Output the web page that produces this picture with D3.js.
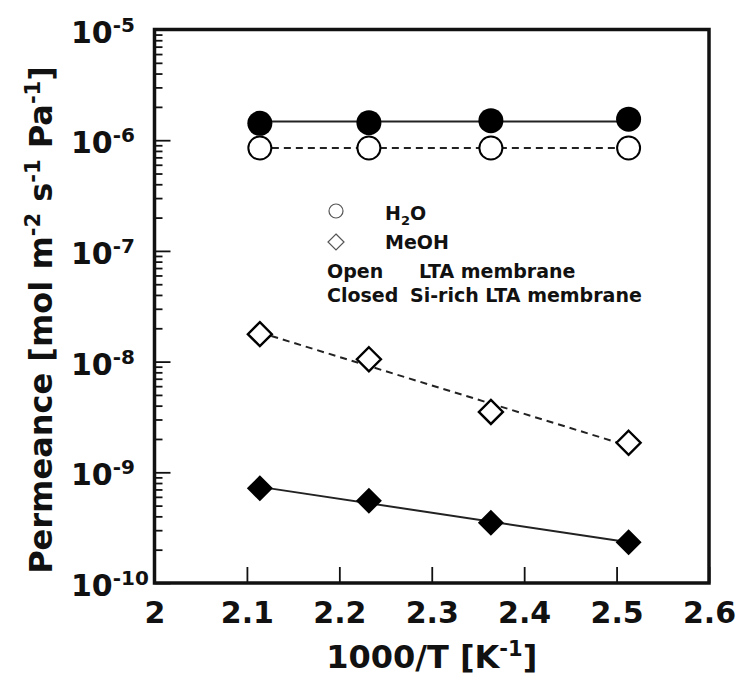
<!DOCTYPE html>
<html>
<head>
<meta charset="utf-8">
<script src="https://cdn.jsdelivr.net/npm/d3@7"></script>
<style>
  html, body { margin: 0; padding: 0; background: #fff; }
  svg text { font-family: "DejaVu Sans", Verdana, sans-serif; font-weight: bold; fill: #111; }
</style>
</head>
<body>
<svg id="chart"></svg>
<script>
// 1000/T [K^-1] for the four temperatures
var invT = [2.114, 2.232, 2.364, 2.513];
// permeance [mol m-2 s-1 Pa-1]
var h2oOpen = [8.5e-7, 8.5e-7, 8.5e-7, 8.5e-7];        // LTA membrane
var h2oClosed = [1.42e-6, 1.44e-6, 1.50e-6, 1.55e-6];  // Si-rich LTA membrane
var meohOpen = [1.77e-8, 1.05e-8, 3.51e-9, 1.85e-9];
var meohClosed = [7.17e-10, 5.54e-10, 3.51e-10, 2.33e-10];

var xTicks = [2, 2.1, 2.2, 2.3, 2.4, 2.5, 2.6];
var yExps = [-10, -9, -8, -7, -6, -5];

var W = 737, H = 677;
var plot = { left: 154.5, right: 709, top: 29.5, bottom: 583 };

var svg = d3.select("#chart").attr("width", W).attr("height", H);

var x = d3.scaleLinear().domain([2, 2.6]).range([plot.left, plot.right]);
var y = d3.scaleLog().domain([1e-10, 1e-5]).range([plot.bottom, plot.top]);

// series: fit "mean" draws flat line, "lin" draws log-linear regression
var series = [
	{ vals: h2oClosed, shape: "circle", filled: true, dash: null, fit: "mean" },
	{ vals: h2oOpen, shape: "circle", filled: false, dash: "7,5", fit: "mean" },
	{ vals: meohOpen, shape: "diamond", filled: false, dash: "7,5", fit: "lin" },
	{ vals: meohClosed, shape: "diamond", filled: true, dash: null, fit: "lin" }
];

function fitLine(vals, kind) {
	var ly = vals.map(function(v) { return Math.log10(v); });
	var mx = d3.mean(invT), my = d3.mean(ly);
	var slope = 0;
	if (kind === "lin") {
		var sxy = 0, sxx = 0;
		for (var i = 0; i < invT.length; ++i) {
			sxy += (invT[i] - mx) * (ly[i] - my);
			sxx += (invT[i] - mx) * (invT[i] - mx);
		}
		slope = sxy / sxx;
	}
	var x0 = invT[0], x1 = invT[invT.length - 1];
	return [
		[x0, Math.pow(10, my + slope * (x0 - mx))],
		[x1, Math.pow(10, my + slope * (x1 - mx))]
	];
}

// axes (ticks inside)
var xAxis = d3.axisBottom(x).tickValues(xTicks).tickSizeInner(-16).tickSizeOuter(0)
	.tickFormat(function(d) { return d === 2 ? "2" : d3.format(".1f")(d); });
var gx = svg.append("g").attr("transform", "translate(0," + plot.bottom + ")").call(xAxis);
gx.select(".domain").remove();
gx.selectAll("line").attr("stroke", "#111").attr("stroke-width", 1.8);
gx.selectAll("text").attr("dy", null).attr("y", 40)
	.style("font-size", "30px").attr("fill", "#111");

var majors = yExps.map(function(e) { return Math.pow(10, e); });
var minors = [];
yExps.slice(0, -1).forEach(function(e) {
	for (var m = 2; m <= 9; ++m) minors.push(m * Math.pow(10, e));
});

var gyMinor = svg.append("g").attr("transform", "translate(" + plot.left + ",0)")
	.call(d3.axisLeft(y).tickValues(minors).tickSizeInner(-8).tickSizeOuter(0).tickFormat(""));
gyMinor.select(".domain").remove();
gyMinor.selectAll("line").attr("stroke", "#111").attr("stroke-width", 1.8);

var gy = svg.append("g").attr("transform", "translate(" + plot.left + ",0)")
	.call(d3.axisLeft(y).tickValues(majors).tickSizeInner(-16).tickSizeOuter(0).tickFormat(""));
gy.select(".domain").remove();
gy.selectAll("line").attr("stroke", "#111").attr("stroke-width", 1.8);
gy.selectAll(".tick").each(function(d) {
	var t = d3.select(this).append("text")
		.attr("x", 71 - plot.left).attr("y", 12.5)
		.attr("text-anchor", "start").style("font-size", "30px");
	t.append("tspan").text("10");
	t.append("tspan").attr("dy", -11).style("font-size", "20px")
		.text("-" + Math.abs(Math.round(Math.log10(d))));
});

// frame
svg.append("rect")
	.attr("x", plot.left).attr("y", plot.top)
	.attr("width", plot.right - plot.left).attr("height", plot.bottom - plot.top)
	.attr("fill", "none").attr("stroke", "#111").attr("stroke-width", 3.5);

// fit lines
var line = d3.line().x(function(d) { return x(d[0]); }).y(function(d) { return y(d[1]); });
svg.append("g").selectAll("path")
	.data(series).enter().append("path")
	.attr("d", function(s) { return line(fitLine(s.vals, s.fit)); })
	.attr("fill", "none").attr("stroke", "#222").attr("stroke-width", 2)
	.attr("stroke-dasharray", function(s) { return s.dash; });

// markers
var diamond = function(r) { return "M0," + (-r) + "L" + r + ",0L0," + r + "L" + (-r) + ",0Z"; };
series.forEach(function(s) {
	var g = svg.append("g");
	var pts = invT.map(function(t, i) { return [t, s.vals[i]]; });
	if (s.shape === "circle") {
		g.selectAll("circle").data(pts).enter().append("circle")
			.attr("cx", function(d) { return x(d[0]); })
			.attr("cy", function(d) { return y(d[1]); })
			.attr("r", s.filled ? 12.5 : 11.5)
			.attr("fill", s.filled ? "#000" : "#fff")
			.attr("stroke", "#000").attr("stroke-width", s.filled ? 0 : 2);
	} else {
		g.selectAll("path").data(pts).enter().append("path")
			.attr("transform", function(d) { return "translate(" + x(d[0]) + "," + y(d[1]) + ")"; })
			.attr("d", diamond(s.filled ? 13 : 12))
			.attr("fill", s.filled ? "#000" : "#fff")
			.attr("stroke", "#000").attr("stroke-width", s.filled ? 0 : 2.4);
	}
});

// legend
var lg = svg.append("g");
lg.append("circle").attr("cx", 336).attr("cy", 211).attr("r", 7)
	.attr("fill", "#fff").attr("stroke", "#555").attr("stroke-width", 1.2);
lg.append("path").attr("transform", "translate(336,242)").attr("d", diamond(8))
	.attr("fill", "#fff").attr("stroke", "#555").attr("stroke-width", 1.2);
var h2o = lg.append("text").attr("x", 385).attr("y", 219.5).style("font-size", "19px");
h2o.append("tspan").text("H");
h2o.append("tspan").attr("dy", 5).style("font-size", "13px").text("2");
h2o.append("tspan").attr("dy", -5).text("O");
lg.append("text").attr("x", 385).attr("y", 248.5).style("font-size", "19px").text("MeOH");
lg.append("text").attr("x", 327).attr("y", 277.5).style("font-size", "19px").text("Open");
lg.append("text").attr("x", 419).attr("y", 277.5).style("font-size", "19px").text("LTA membrane");
lg.append("text").attr("x", 327).attr("y", 302).style("font-size", "19px").text("Closed");
lg.append("text").attr("x", 410).attr("y", 302).style("font-size", "19px").text("Si-rich LTA membrane");

// axis titles
var xt = svg.append("text").attr("x", (plot.left + plot.right) / 2).attr("y", 668)
	.attr("text-anchor", "middle").style("font-size", "32px");
xt.append("tspan").text("1000/T [K");
xt.append("tspan").attr("dy", -12).style("font-size", "21px").text("-1");
xt.append("tspan").attr("dy", 12).text("]");

var yt = svg.append("text")
	.attr("transform", "translate(52," + 320 + ") rotate(-90)")
	.attr("text-anchor", "middle").style("font-size", "32px");
yt.append("tspan").text("Permeance [mol m");
yt.append("tspan").attr("dy", -12).style("font-size", "21px").text("-2");
yt.append("tspan").attr("dy", 12).text(" s");
yt.append("tspan").attr("dy", -12).style("font-size", "21px").text("-1");
yt.append("tspan").attr("dy", 12).text(" Pa");
yt.append("tspan").attr("dy", -12).style("font-size", "21px").text("-1");
yt.append("tspan").attr("dy", 12).text("]");
</script>
</body>
</html>
